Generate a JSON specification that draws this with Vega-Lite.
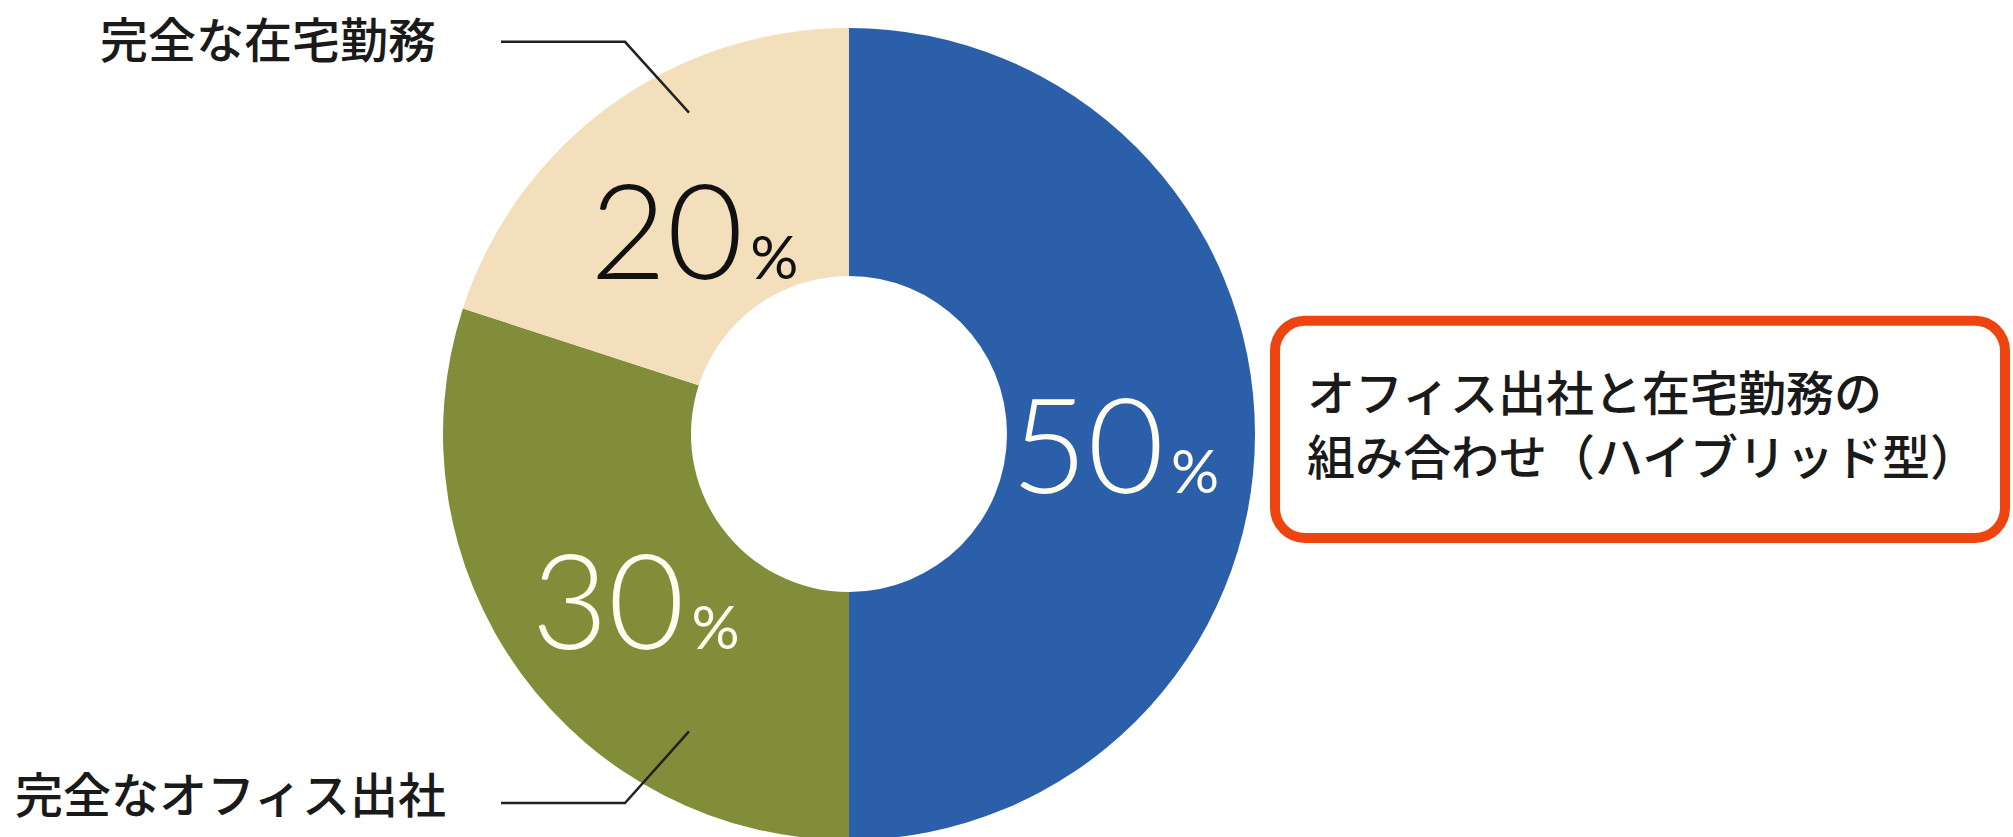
{
  "$schema": "https://vega.github.io/schema/vega-lite/v6.json",
  "width": 2013,
  "height": 837,
  "autosize": {"type": "fit", "contains": "padding"},
  "padding": 0,
  "background": "white",
  "config": {"view": {"stroke": null}},
  "datasets": {
    "share": [
      {"category": "オフィス出社と在宅勤務の組み合わせ（ハイブリッド型）", "value": 50, "num": "50", "order": 1},
      {"category": "完全なオフィス出社", "value": 30, "num": "30", "order": 2},
      {"category": "完全な在宅勤務", "value": 20, "num": "20", "order": 3}
    ],
    "leaders": [
      {"label": "完全な在宅勤務", "seq": 1, "x": 501, "y": 42},
      {"label": "完全な在宅勤務", "seq": 2, "x": 625, "y": 42},
      {"label": "完全な在宅勤務", "seq": 3, "x": 689, "y": 113},
      {"label": "完全なオフィス出社", "seq": 1, "x": 501, "y": 806},
      {"label": "完全なオフィス出社", "seq": 2, "x": 625, "y": 806},
      {"label": "完全なオフィス出社", "seq": 3, "x": 689, "y": 734}
    ],
    "labels": [
      {"text": "完全な在宅勤務", "x": 100, "y": 44},
      {"text": "完全なオフィス出社", "x": 15, "y": 802},
      {"text": "オフィス出社と在宅勤務の", "x": 1307, "y": 398},
      {"text": "組み合わせ（ハイブリッド型）", "x": 1307, "y": 463}
    ],
    "box": [
      {"x": 1275, "x2": 2005, "y": 322, "y2": 540}
    ]
  },
  "layer": [
    {
      "data": {"name": "share"},
      "mark": {"type": "arc", "x": 849, "y": 434, "radius": 406, "innerRadius": 158},
      "encoding": {
        "theta": {"field": "value", "type": "quantitative", "stack": true},
        "order": {"field": "order", "type": "quantitative"},
        "color": {
          "field": "category",
          "type": "nominal",
          "scale": {
            "domain": ["オフィス出社と在宅勤務の組み合わせ（ハイブリッド型）", "完全なオフィス出社", "完全な在宅勤務"],
            "range": ["#2b5fa9", "#828d3a", "#f4dfbd"]
          },
          "legend": null
        }
      }
    },
    {
      "data": {"name": "share"},
      "mark": {"type": "text", "x": 849, "y": 434, "radius": 265, "align": "right", "baseline": "alphabetic", "dx": 50, "dy": 59, "font": "Lato", "fontWeight": 300, "fontSize": 132},
      "encoding": {
        "theta": {"field": "value", "type": "quantitative", "stack": true},
        "order": {"field": "order", "type": "quantitative"},
        "text": {"field": "num"},
        "color": {"condition": {"test": "datum.category === '完全な在宅勤務'", "value": "#111111"}, "value": "#fffdf0"}
      }
    },
    {
      "data": {"name": "share"},
      "mark": {"type": "text", "x": 849, "y": 434, "radius": 265, "align": "left", "baseline": "alphabetic", "dx": 57, "dy": 59, "font": "Lato", "fontWeight": 400, "fontSize": 60, "text": "%"},
      "encoding": {
        "theta": {"field": "value", "type": "quantitative", "stack": true},
        "order": {"field": "order", "type": "quantitative"},
        "color": {"condition": {"test": "datum.category === '完全な在宅勤務'", "value": "#111111"}, "value": "#fffdf0"}
      }
    },
    {
      "data": {"name": "leaders"},
      "mark": {"type": "line", "color": "#222222", "strokeWidth": 2.5},
      "encoding": {
        "x": {"field": "x", "type": "quantitative", "scale": {"domain": [0, 2013], "nice": false, "zero": false}, "axis": null},
        "y": {"field": "y", "type": "quantitative", "scale": {"domain": [0, 837], "nice": false, "zero": false, "reverse": true}, "axis": null},
        "detail": {"field": "label"},
        "order": {"field": "seq", "type": "quantitative"}
      }
    },
    {
      "data": {"name": "box"},
      "mark": {"type": "rect", "fill": "white", "stroke": "#ee4510", "strokeWidth": 10, "cornerRadius": 30},
      "encoding": {
        "x": {"field": "x", "type": "quantitative"},
        "x2": {"field": "x2"},
        "y": {"field": "y", "type": "quantitative"},
        "y2": {"field": "y2"}
      }
    },
    {
      "data": {"name": "labels"},
      "mark": {"type": "text", "align": "left", "baseline": "middle", "font": "Noto Sans CJK JP", "fontWeight": 500, "fontSize": 48, "color": "#1a1a1a"},
      "encoding": {
        "x": {"field": "x", "type": "quantitative"},
        "y": {"field": "y", "type": "quantitative"},
        "text": {"field": "text"}
      }
    }
  ]
}
